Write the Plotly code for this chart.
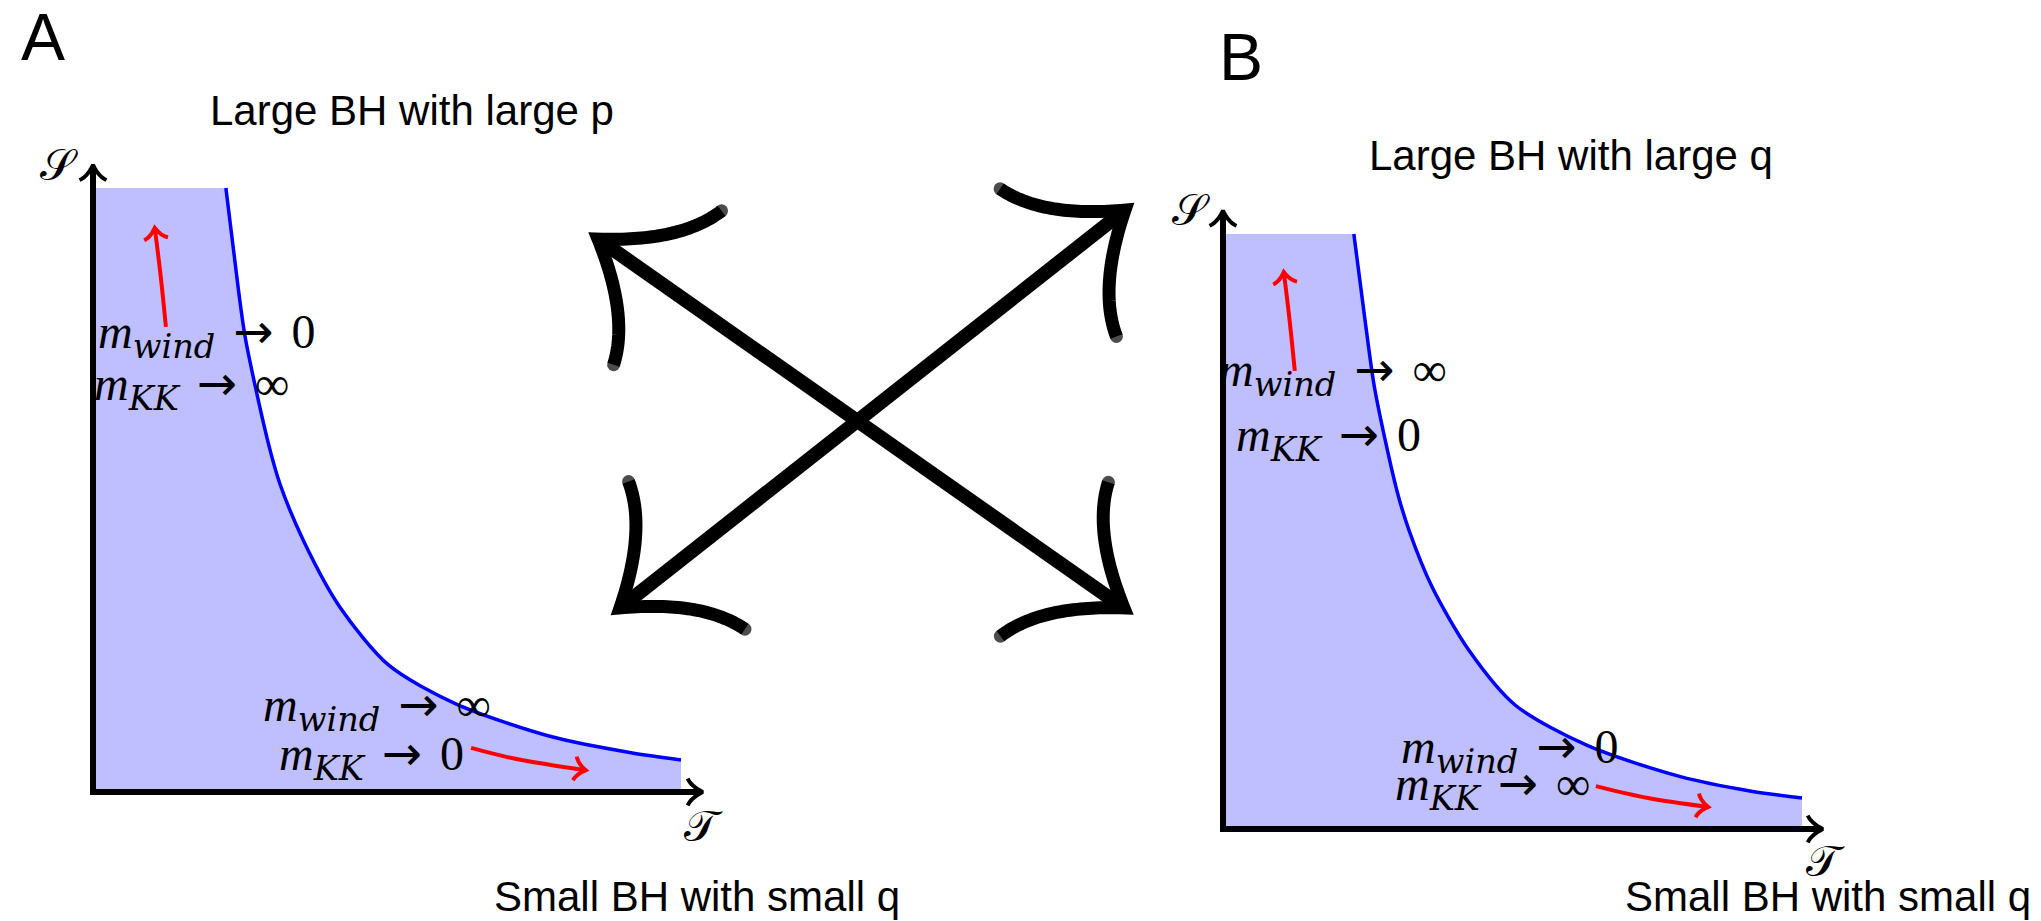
import numpy as np
import plotly.graph_objects as go

W, H = 2041, 921

# ---------------- data (panel units: T along x, S along y) ----------------
curve_A_T = [2.26, 2.47, 2.59, 2.96, 3.18, 3.59, 4.20, 5.03, 6.17, 7.82, 9.15, 10.00]
curve_A_S = [10.00, 8.34, 7.52, 5.86, 5.10, 4.14, 3.06, 2.10, 1.46, 0.91, 0.65, 0.53]
curve_B_T = [2.26, 2.46, 2.62, 3.00, 3.22, 3.62, 4.25, 5.05, 6.30, 7.90, 9.10, 10.00]
curve_B_S = [10.00, 8.50, 7.40, 5.70, 5.00, 4.05, 3.00, 2.08, 1.40, 0.88, 0.64, 0.52]

flow_A_up_T = [1.24, 1.15, 1.05]
flow_A_up_S = [7.70, 8.55, 9.34]
flow_A_low_T = [6.43, 7.18, 8.38]
flow_A_low_S = [0.73, 0.55, 0.36]
flow_B_up_T = [1.24, 1.15, 1.05]
flow_B_up_S = [7.70, 8.55, 9.36]
flow_B_low_T = [6.44, 7.34, 8.38]
flow_B_low_S = [0.72, 0.52, 0.37]

axis_tip_A = [10.37, 10.38]
axis_tip_B = [10.36, 10.39]

panel_letters = ["A", "B"]
titles_top = ["Large BH with large p", "Large BH with large q"]
titles_bottom = ["Small BH with small q", "Small BH with small q"]
# (subscript, limit) pairs for the four label groups
labels_A_top = [("wind", "0"), ("KK", "∞")]
labels_A_bottom = [("wind", "∞"), ("KK", "0")]
labels_B_top = [("wind", "∞"), ("KK", "0")]
labels_B_bottom = [("wind", "0"), ("KK", "∞")]

# the crossed double arrows between the panels (canvas pixels)
diag1_x = [590, 1116]
diag1_y = [231, 600]
diag2_x = [612, 1117]
diag2_y = [600, 202]

# ---------------- layout geometry ----------------
PA = dict(ox=85, oy=784, sx=58.8, sy=60.4)
PB = dict(ox=1215, oy=821, sx=57.9, sy=59.5)
TMIN, TMAX = -0.6, 10.9

FILL = "#BFBFFF"
BLUE = "#0000FF"
RED = "#FF0000"
SERIF = "Liberation Serif, Times New Roman, serif"
SANS = "Liberation Sans, Arial, Helvetica, sans-serif"


def chevron(dir_x, dir_y, back, side, kx=0.82, ky=0.48, n=14):
    d = np.array([dir_x, dir_y], float)
    d /= np.hypot(*d)
    p = np.array([-d[1], d[0]])
    t = np.linspace(0, 1, n)[:, None]
    wings = []
    for s in (1, -1):
        end = -d * back + s * p * side
        ctrl = -d * back * kx + s * p * side * ky
        wings.append(2 * (1 - t) * t * ctrl + t ** 2 * end)
    return np.vstack([wings[0][::-1], wings[1][1:]])  # pixel deltas (screen, y down)


def end_markers(n, size):
    s = [0] * n
    s[0] = size
    s[-1] = size
    return s


fig = go.Figure()


def panel_axes(P, idx):
    xd = [(P["ox"] + TMIN * P["sx"]) / W, (P["ox"] + TMAX * P["sx"]) / W]
    yd = [1 - (P["oy"] - TMIN * P["sy"]) / H, 1 - (P["oy"] - TMAX * P["sy"]) / H]
    ax = dict(domain=xd, range=[TMIN, TMAX], visible=False, fixedrange=True)
    ay = dict(domain=yd, range=[TMIN, TMAX], visible=False, fixedrange=True)
    fig.update_layout(**{f"xaxis{idx}": dict(ax, anchor=f"y{idx}"), f"yaxis{idx}": dict(ay, anchor=f"x{idx}")})


def add_panel(P, idx, cT, cS, tip, flows):
    xa, ya = f"x{idx}", f"y{idx}"
    # flat top part of the shaded region (left of the curve)
    fig.add_trace(go.Scatter(x=[0, 0, cT[0] + 0.03, cT[0] + 0.03], y=[0, cS[0], cS[0], 0], fill="toself",
                             fillcolor=FILL, mode="lines", line=dict(width=0),
                             xaxis=xa, yaxis=ya, hoverinfo="skip"))
    # region under the boundary curve, and the curve itself
    fig.add_trace(go.Scatter(x=cT, y=cS, mode="lines", fill="tozeroy", fillcolor=FILL,
                             line=dict(color=BLUE, width=3.5, shape="spline", smoothing=0.8),
                             xaxis=xa, yaxis=ya, hoverinfo="skip"))
    # axes with arrow tips
    fig.add_trace(go.Scatter(x=[tip[0] - 0.05, 0, 0], y=[0, 0, tip[1] - 0.05], mode="lines",
                             line=dict(color="black", width=6), xaxis=xa, yaxis=ya, hoverinfo="skip"))
    for (tx, ty, dx, dy) in [(tip[0], 0, 1, 0), (0, tip[1], 0, -1)]:
        c = chevron(dx, dy, 15, 13.5, 0.8, 0.45)
        fig.add_trace(go.Scatter(x=tx + c[:, 0] / P["sx"], y=ty - c[:, 1] / P["sy"], mode="lines",
                                 line=dict(color="black", width=4, simplify=False),
                                 xaxis=xa, yaxis=ya, hoverinfo="skip"))
    # red flow arrows
    for fT, fS in flows:
        fig.add_trace(go.Scatter(x=fT, y=fS, mode="lines", line=dict(color=RED, width=4, shape="spline"),
                                 xaxis=xa, yaxis=ya, hoverinfo="skip"))
        dx = (fT[-1] - fT[-2]) * P["sx"]
        dy = -(fS[-1] - fS[-2]) * P["sy"]
        c = chevron(dx, dy, 11, 12, 0.8, 0.45)
        fig.add_trace(go.Scatter(x=fT[-1] + c[:, 0] / P["sx"], y=fS[-1] - c[:, 1] / P["sy"], mode="lines",
                                 line=dict(color=RED, width=4, simplify=False),
                                 xaxis=xa, yaxis=ya, hoverinfo="skip"))


panel_axes(PA, 2)
panel_axes(PB, 3)
add_panel(PA, 2, curve_A_T, curve_A_S, axis_tip_A,
          [(flow_A_up_T, flow_A_up_S), (flow_A_low_T, flow_A_low_S)])
add_panel(PB, 3, curve_B_T, curve_B_S, axis_tip_B,
          [(flow_B_up_T, flow_B_up_S), (flow_B_low_T, flow_B_low_S)])

# crossed double arrows (canvas axis in pixels)
for dx_, dy_ in [(diag1_x, diag1_y), (diag2_x, diag2_y)]:
    fig.add_trace(go.Scatter(x=dx_, y=dy_, mode="lines", line=dict(color="black", width=14),
                             xaxis="x", yaxis="y", hoverinfo="skip"))
    for a, b in [(0, 1), (1, 0)]:
        c = chevron(dx_[a] - dx_[b], dy_[a] - dy_[b], 85, 94, 0.82, 0.48, n=40)
        n = len(c)
        fig.add_trace(go.Scatter(x=dx_[a] + c[:, 0], y=dy_[a] + c[:, 1], mode="lines+markers",
                                 line=dict(color="black", width=13, simplify=False),
                                 marker=dict(color="black", size=end_markers(n, 13), line=dict(width=0)),
                                 xaxis="x", yaxis="y", hoverinfo="skip"))

# ---------------- text ----------------
ann = []


def txt(x, y, s, size, family, xanchor="left"):
    ann.append(dict(x=x, y=y, xref="x", yref="y", text=s, showarrow=False, xanchor=xanchor, yanchor="middle",
                    font=dict(size=size, family=family, color="black")))


txt(11, 29, panel_letters[0], 66, SANS)
txt(1209, 49, panel_letters[1], 66, SANS)
txt(200, 102, titles_top[0], 42, SANS)
txt(1359, 147, titles_top[1], 42, SANS)
txt(484, 888, titles_bottom[0], 42, SANS)
txt(1615, 888, titles_bottom[1], 42, SANS)

txt(51, 157, "𝒮", 44, SERIF, "center")
txt(695, 818, "𝒯", 44, SERIF, "center")
txt(1183, 202, "𝒮", 44, SERIF, "center")
txt(1817, 853, "𝒯", 44, SERIF, "center")

ARROW = '<span style="font-family:DejaVu Sans">→</span>'
GAP = '<span style="font-size:24px">&nbsp;</span> '


def mlabel(x, y, pair):
    sub, lim = pair
    s = (f'<i>m</i><sub><i><span style="font-family:DejaVu Serif">{sub}</span></i></sub>'
         f'{GAP}{ARROW}{GAP}{lim}')
    txt(x, y, s, 48, SERIF)


mlabel(88, 326, labels_A_top[0])
mlabel(84, 378, labels_A_top[1])
mlabel(253, 699, labels_A_bottom[0])
mlabel(269, 748, labels_A_bottom[1])
mlabel(1209, 364, labels_B_top[0])
mlabel(1226, 429, labels_B_top[1])
mlabel(1391, 741, labels_B_bottom[0])
mlabel(1385, 778, labels_B_bottom[1])

fig.update_layout(
    width=W, height=H, margin=dict(l=0, r=0, t=0, b=0),
    paper_bgcolor="white", plot_bgcolor="rgba(0,0,0,0)", showlegend=False,
    xaxis=dict(domain=[0, 1], range=[0, W], visible=False, fixedrange=True),
    yaxis=dict(domain=[0, 1], range=[H, 0], visible=False, fixedrange=True),
    annotations=ann,
)

fig.write_html("out.html", config={"displayModeBar": False})
